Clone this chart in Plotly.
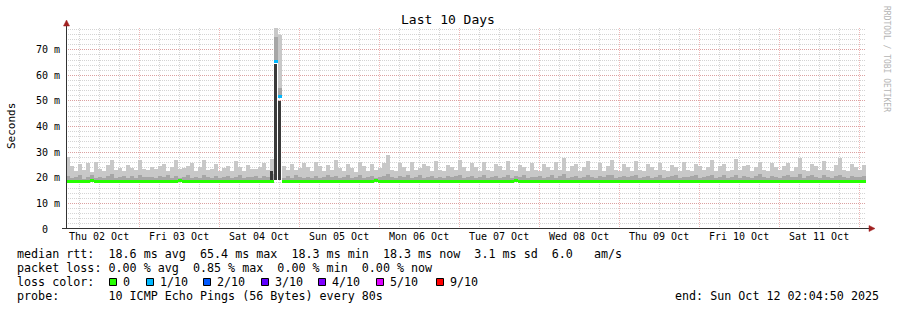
import plotly.graph_objects as go
from datetime import datetime, timedelta

# ---------------- data ----------------
start_time = datetime(2025, 10, 2, 2, 4, 50)
end_time = datetime(2025, 10, 12, 2, 4, 50)
step_minutes = 72

# upper edge of the light smoke (slowest ping), ms
smoke_max_ms = [
    28.0, 24.5, 22.6, 25.5, 23.0, 25.8, 22.4, 26.2, 23.5, 22.8, 24.9, 27.0, 23.2, 24.0, 22.5, 25.1, 23.8, 22.9, 26.8, 23.4,
    22.9, 24.2, 23.6, 24.8, 25.3, 22.7, 24.1, 26.9, 23.3, 23.8, 24.6, 25.9, 22.5, 24.4, 27.1, 23.0, 23.6, 25.2, 22.8, 23.9,
    24.6, 22.8, 26.7, 24.1, 22.7, 25.0, 23.3, 23.6, 24.4, 25.6, 23.0, 27.3, 78.5, 75.8, 24.6, 22.9, 25.4, 23.1, 23.7, 25.9,
    24.3, 22.8, 26.1, 24.5, 22.6, 25.1, 23.2, 27.0, 23.9, 22.7, 25.5, 24.0, 22.4, 26.0, 24.8, 22.7, 25.2, 23.1, 23.9, 25.7,
    29.0, 23.2, 22.6, 25.8, 24.4, 22.5, 26.3, 23.0, 23.7, 25.4, 24.6, 22.8, 26.5, 23.2, 22.6, 25.0, 24.3, 22.9, 26.8, 24.1,
    22.7, 25.6, 24.4, 22.8, 26.2, 23.0, 22.5, 25.3, 24.7, 22.9, 26.6, 23.2, 22.6, 25.1, 24.4, 22.8, 25.9, 23.0, 22.6, 25.5,
    24.3, 22.9, 26.0, 23.1, 27.9, 22.8, 24.6, 25.2, 22.7, 24.4, 26.4, 22.9, 23.2, 25.6, 22.8, 24.5, 26.9, 23.0, 22.7, 25.3,
    24.2, 22.8, 26.7, 23.1, 22.6, 25.5, 24.3, 22.9, 25.9, 23.0, 22.5, 25.1, 24.4, 22.7, 26.2, 23.1, 22.8, 25.4, 24.6, 22.9,
    24.3, 26.8, 22.8, 24.5, 25.2, 22.7, 23.1, 27.2, 22.9, 24.6, 25.0, 22.8, 24.3, 26.1, 23.0, 22.6, 25.7, 24.2, 22.9, 24.8,
    25.6, 22.8, 24.4, 27.9, 23.1, 22.7, 25.3, 24.5, 22.9, 26.4, 23.2, 22.8, 25.1, 27.8, 23.0, 22.7, 25.5, 24.3, 22.9, 24.9,
]

# upper edge of the medium smoke, ms
smoke_hi_ms = [
    20.6, 19.8, 20.3, 20.9, 19.7, 20.4, 21.0, 19.9, 20.5, 20.1, 20.8, 21.3, 19.8, 20.2, 20.6, 19.9, 20.7, 20.0, 21.1, 20.3,
    20.2, 20.5, 19.9, 20.7, 20.3, 21.2, 20.0, 20.6, 19.8, 20.4, 20.9, 20.1, 20.5, 19.9, 21.0, 20.3, 20.0, 20.6, 19.8, 20.4,
    20.7, 20.0, 20.4, 21.1, 19.9, 20.5, 20.2, 20.8, 20.0, 20.6, 20.3, 21.6, 75.0, 55.0, 20.1, 20.6, 20.0, 20.9, 20.3, 19.8,
    20.5, 20.1, 20.8, 19.9, 20.4, 21.0, 20.2, 20.6, 19.8, 20.3, 20.9, 20.0, 20.5, 21.2, 19.9, 20.4, 20.7, 20.1, 20.3, 20.8,
    21.4, 20.2, 19.9, 20.6, 20.3, 20.9, 20.0, 20.5, 21.1, 19.8, 20.4, 20.7, 20.1, 20.5, 19.9, 20.8, 20.2, 20.6, 21.0, 20.0,
    20.3, 20.8, 19.9, 20.5, 21.2, 20.1, 20.4, 20.7, 19.8, 20.3, 20.9, 20.0, 20.6, 20.2, 21.0, 19.9, 20.5, 20.3, 20.7, 20.1,
    20.4, 20.9, 20.0, 20.6, 21.3, 19.9, 20.3, 20.8, 20.1, 20.5, 21.0, 20.2, 19.8, 20.6, 20.3, 20.9, 21.2, 20.0, 20.4, 20.7,
    20.2, 20.6, 21.1, 19.9, 20.4, 20.8, 20.1, 20.5, 20.9, 20.0, 20.3, 20.7, 21.0, 19.8, 20.5, 20.2, 20.6, 20.9, 20.1, 20.4,
    20.7, 21.2, 20.0, 20.5, 20.9, 20.1, 20.4, 21.0, 19.9, 20.6, 20.3, 20.0, 20.8, 21.3, 20.2, 19.9, 20.6, 20.4, 20.1, 20.7,
    21.1, 20.2, 20.5, 21.4, 20.0, 20.6, 20.9, 20.3, 20.1, 21.0, 20.4, 19.9, 20.7, 21.2, 20.3, 20.0, 20.8, 20.5, 20.2, 20.6,
]

# median rtt, ms
median_ms = [
    18.6, 18.5, 18.7, 18.6, 18.5, 18.6, 18.8, 18.6, 18.5, 18.6, 18.7, 18.6, 18.5, 18.6, 18.6, 18.7, 18.5, 18.6, 18.6, 18.5,
    18.6, 18.6, 18.5, 18.7, 18.6, 18.6, 18.5, 18.6, 18.8, 18.6, 18.5, 18.6, 18.6, 18.7, 18.5, 18.6, 18.6, 18.5, 18.6, 18.7,
    18.6, 18.5, 18.6, 18.6, 18.7, 18.6, 18.5, 18.6, 18.6, 18.5, 18.7, 18.6, 65.4, 51.6, 18.4, 18.5, 18.6, 18.5, 18.6, 18.7,
    18.6, 18.5, 18.6, 18.6, 18.5, 18.7, 18.6, 18.6, 18.5, 18.6, 18.6, 18.7, 18.5, 18.6, 18.6, 18.5, 18.6, 18.8, 18.6, 18.5,
    18.6, 18.6, 18.7, 18.5, 18.6, 18.6, 18.5, 18.6, 18.7, 18.6, 18.5, 18.6, 18.6, 18.5, 18.7, 18.6, 18.6, 18.5, 18.6, 18.6,
    18.7, 18.6, 18.5, 18.6, 18.6, 18.5, 18.6, 18.7, 18.6, 18.5, 18.6, 18.6, 18.8, 18.6, 18.5, 18.6, 18.6, 18.7, 18.5, 18.6,
    18.6, 18.5, 18.6, 18.6, 18.7, 18.6, 18.5, 18.6, 18.6, 18.5, 18.6, 18.7, 18.6, 18.6, 18.5, 18.6, 18.6, 18.5, 18.7, 18.6,
    18.6, 18.5, 18.6, 18.6, 18.7, 18.6, 18.5, 18.6, 18.6, 18.5, 18.6, 18.6, 18.7, 18.5, 18.6, 18.6, 18.5, 18.6, 18.7, 18.6,
    18.5, 18.6, 18.6, 18.7, 18.6, 18.5, 18.6, 18.6, 18.5, 18.7, 18.6, 18.6, 18.5, 18.6, 18.6, 18.7, 18.5, 18.6, 18.6, 18.5,
    18.6, 18.7, 18.6, 18.5, 18.6, 18.6, 18.7, 18.5, 18.6, 18.6, 18.5, 18.6, 18.7, 18.6, 18.5, 18.6, 18.6, 18.7, 18.5, 18.4,
]

# intervals with packet loss (index, lost pings out of 10)
loss_index = [52, 53]
loss_count = [1, 1]

# dark smoke around the latency spike (index, low ms, high ms)
spike_index = [51, 52, 53]
spike_low_ms = [18.8, 19.0, 19.0]
spike_high_ms = [22.8, 64.5, 50.0]

loss_labels = ["0", "1/10", "2/10", "3/10", "4/10", "5/10", "9/10"]
loss_colors = ["#26ff00", "#00b8ff", "#0059ff", "#5e00ff", "#7e00ff", "#dd00ff", "#ff0000"]

y_tick_vals = [0, 10, 20, 30, 40, 50, 60, 70]
y_tick_text = ["0\u00a0\u00a0", "10 m", "20 m", "30 m", "40 m", "50 m", "60 m", "70 m"]

legend_lines = [
    "median rtt:  18.6 ms avg  65.4 ms max  18.3 ms min  18.3 ms now  3.1 ms sd  6.0   am/s",
    "packet loss: 0.00 % avg  0.85 % max  0.00 % min  0.00 % now",
    "loss color:",
    "probe:       10 ICMP Echo Pings (56 Bytes) every 80s",
]
end_text = "end: Sun Oct 12 02:04:50 2025"

# ---------------- build ----------------
n = len(median_ms)
times = [start_time + timedelta(minutes=step_minutes * i) for i in range(n)]
bar_w = step_minutes * 60 * 1000

loss_per_point = [0] * n
for idx, c in zip(loss_index, loss_count):
    loss_per_point[idx] = c
median_colors = [loss_colors[c] for c in loss_per_point]

MONO = "DejaVu Sans Mono"
fig = go.Figure()

fig.add_trace(go.Bar(
    x=times, base=median_ms, y=[a - b for a, b in zip(smoke_max_ms, median_ms)],
    width=bar_w, offset=0, marker=dict(color="#c8c8c8", line=dict(width=0)),
    hoverinfo="skip", showlegend=False))
fig.add_trace(go.Bar(
    x=times, base=median_ms, y=[a - b for a, b in zip(smoke_hi_ms, median_ms)],
    width=bar_w, offset=0, marker=dict(color="#a6a6a6", line=dict(width=0)),
    hoverinfo="skip", showlegend=False))
fig.add_trace(go.Bar(
    x=[times[i] for i in spike_index], base=spike_low_ms,
    y=[h - l for h, l in zip(spike_high_ms, spike_low_ms)],
    width=bar_w * 0.7, offset=0, marker=dict(color="#3a3a3a", line=dict(width=0)),
    hoverinfo="skip", showlegend=False))
fig.add_trace(go.Bar(
    x=times, base=[m - 0.6 for m in median_ms], y=[1.2] * n,
    width=bar_w, offset=0, marker=dict(color=median_colors, line=dict(width=0)),
    hoverinfo="skip", showlegend=False))

PL, PT, PW, PH = 66, 28, 800, 201


def px(x):
    return (x - PL) / PW


def py(y):
    return (PT + PH - y) / PH


annotations = []


def add_text(text, x, y, size, xanchor="left", color="#000000", angle=0):
    annotations.append(dict(
        text=text, x=px(x), y=py(y), xref="paper", yref="paper",
        xanchor=xanchor, yanchor="middle", showarrow=False, textangle=angle,
        borderpad=0, font=dict(family=MONO, size=size, color=color)))


add_text("Last 10 Days", 448, 20, 13, xanchor="center")
add_text("Seconds", 11, 126, 11, xanchor="center", angle=-90)
add_text("RRDTOOL / TOBI OETIKER", 886, 59, 8, xanchor="center", color="#b4b4b4", angle=90)

row_y = [254, 268, 282, 296]
for line, yy in zip(legend_lines, row_y):
    add_text(line.replace(" ", "\u00a0"), 16, yy, 11.7)
add_text(end_text.replace(" ", "\u00a0"), 880, 296, 11.7, xanchor="right")

square_x = [109, 146, 203, 261, 318, 376, 436]
shapes = []
for sx, lab, col in zip(square_x, loss_labels, loss_colors):
    shapes.append(dict(type="rect", xref="paper", yref="paper",
                       x0=px(sx + 0.5), x1=px(sx + 7.5), y0=py(285.5), y1=py(278.5),
                       fillcolor=col, line=dict(color="#000000", width=1)))
    add_text(lab, sx + 13, 282, 11.7)

axis_col = "#333333"
arrow_col = "#a02020"
shapes += [
    dict(type="line", xref="paper", yref="paper", x0=px(66.5), x1=px(66.5), y0=py(229), y1=py(25),
         line=dict(color=axis_col, width=1)),
    dict(type="line", xref="paper", yref="paper", x0=px(62), x1=px(870), y0=py(228.5), y1=py(228.5),
         line=dict(color=axis_col, width=1)),
    dict(type="path", xref="paper", yref="paper",
         path=f"M {px(63.5)},{py(26)} L {px(69.5)},{py(26)} L {px(66.5)},{py(20)} Z",
         fillcolor=arrow_col, line=dict(color=arrow_col, width=0.5)),
    dict(type="path", xref="paper", yref="paper",
         path=f"M {px(869)},{py(225.5)} L {px(869)},{py(231.5)} L {px(875)},{py(228.5)} Z",
         fillcolor=arrow_col, line=dict(color=arrow_col, width=0.5)),
]

major_grid = "rgba(225,110,110,0.5)"
minor_grid = "rgba(160,160,160,0.45)"

fig.update_layout(
    width=897, height=310, autosize=False,
    margin=dict(l=PL, r=897 - PL - PW, t=PT, b=310 - PT - PH, pad=0),
    paper_bgcolor="#ffffff", plot_bgcolor="#ffffff",
    barmode="overlay", bargap=0, showlegend=False,
    font=dict(family=MONO, size=10, color="#000000"),
    annotations=annotations, shapes=shapes,
    xaxis=dict(
        type="date", range=[start_time, end_time],
        tick0="2025-10-03 00:00:00", dtick=86400000,
        ticklabelmode="period", tickformat="%a %d %b",
        showgrid=True, gridcolor=major_grid, griddash="1px,1px", gridwidth=1,
        minor=dict(dtick=21600000, tick0="2025-10-03 00:00:00", showgrid=True,
                   gridcolor=minor_grid, griddash="1px,1px", gridwidth=1),
        showline=False, zeroline=False, ticks="",
        tickfont=dict(family=MONO, size=10, color="#000000"),
        fixedrange=True,
    ),
    yaxis=dict(
        range=[0, 78.5], tickmode="array", tickvals=y_tick_vals, ticktext=y_tick_text,
        showgrid=True, gridcolor=major_grid, griddash="1px,1px", gridwidth=1,
        minor=dict(dtick=2, tick0=0, showgrid=True, gridcolor=minor_grid,
                   griddash="1px,1px", gridwidth=1),
        showline=False, zeroline=False, ticks="outside", ticklen=3, tickcolor="#ffffff",
        tickfont=dict(family=MONO, size=10, color="#000000"),
        fixedrange=True,
    ),
)

fig.write_html("out.html")
